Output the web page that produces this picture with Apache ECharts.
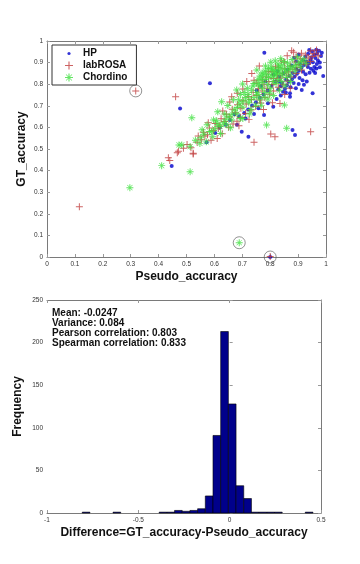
<!DOCTYPE html>
<html lang="en">
<head>
    <meta charset="UTF-8">
    <title>GT vs Pseudo accuracy</title>
    <style>
        html, body { margin: 0; padding: 0; background: #fff; }
    </style>
</head>
<body>
    <div id="main" style="width: 360px;height:564px;"></div>
    <script src="https://cdn.jsdelivr.net/npm/echarts@6/dist/echarts.min.js"></script>
    <script>
        // scatter points [Pseudo_accuracy, GT_accuracy]
        var hpPoints = [
            [0.779,0.946],[0.584,0.804],[0.477,0.688],[0.990,0.838],[0.952,0.758],[0.913,0.773],[0.871,0.758],[0.871,0.742],
            [0.931,0.812],[0.811,0.696],[0.778,0.657],[0.698,0.580],[0.722,0.557],[0.880,0.588],[0.889,0.565],[0.572,0.531],
            [0.656,0.634],[0.447,0.421],[0.800,0.000],
            [0.975,0.955],[0.968,0.942],[0.958,0.936],[0.982,0.930],[0.962,0.921],[0.948,0.925],[0.944,0.912],[0.953,0.902],
            [0.938,0.896],[0.929,0.905],[0.921,0.889],[0.935,0.880],[0.946,0.871],[0.958,0.880],[0.967,0.893],[0.971,0.910],
            [0.912,0.876],[0.903,0.862],[0.918,0.858],[0.927,0.846],[0.941,0.853],[0.955,0.862],[0.896,0.848],[0.887,0.834],
            [0.905,0.829],[0.916,0.818],[0.878,0.823],[0.866,0.811],[0.884,0.806],[0.860,0.795],[0.873,0.786],[0.853,0.779],
            [0.846,0.765],[0.838,0.790],[0.829,0.776],[0.842,0.806],[0.857,0.822],[0.869,0.838],[0.881,0.852],[0.893,0.871],
            [0.908,0.893],[0.918,0.911],[0.926,0.927],[0.936,0.941],[0.951,0.952],[0.893,0.905],[0.877,0.886],[0.862,0.868],
            [0.848,0.851],[0.833,0.834],[0.818,0.812],[0.805,0.793],[0.791,0.771],[0.776,0.752],[0.763,0.737],[0.749,0.716],
            [0.735,0.701],[0.721,0.683],[0.707,0.667],[0.689,0.652],[0.672,0.661],[0.641,0.612],[0.619,0.598],[0.603,0.574],
            [0.752,0.771],[0.768,0.792],[0.783,0.812],[0.812,0.845],[0.826,0.860],[0.961,0.852],[0.978,0.901],[0.985,0.946],
            [0.965,0.960],[0.940,0.958],
            [0.792,0.712],[0.823,0.731],[0.838,0.748],[0.856,0.762],[0.902,0.801],[0.921,0.798],[0.892,0.781],[0.742,0.662],
            [0.758,0.689],[0.681,0.612],[0.712,0.641],[0.832,0.812],[0.902,0.938],[0.886,0.922],[0.966,0.873],[0.978,0.879]
        ];
        var labrosaPoints = [
            [0.318,0.769],[0.461,0.742],[0.467,0.483],[0.435,0.460],[0.440,0.447],[0.116,0.233],[0.471,0.490],[0.524,0.480],
            [0.800,0.002],[0.945,0.580],[0.802,0.569],[0.817,0.557],[0.742,0.531],[0.877,0.955],[0.945,0.955],[0.761,0.884],
            [0.734,0.850],[0.716,0.812],[0.662,0.742],[0.630,0.676],[0.578,0.622],[0.614,0.596],[0.542,0.560],[0.566,0.560],
            [0.610,0.549],[0.524,0.477],[0.835,0.711],[0.763,0.727],
            [0.958,0.941],[0.951,0.928],[0.936,0.921],[0.927,0.935],[0.944,0.905],[0.919,0.903],[0.908,0.918],[0.903,0.891],
            [0.889,0.903],[0.896,0.877],[0.881,0.869],[0.872,0.884],[0.866,0.858],[0.853,0.871],[0.859,0.842],[0.844,0.851],
            [0.838,0.829],[0.826,0.842],[0.822,0.815],[0.811,0.826],[0.807,0.799],[0.795,0.812],[0.789,0.781],[0.778,0.797],
            [0.771,0.768],[0.758,0.779],[0.752,0.748],[0.739,0.761],[0.733,0.729],[0.721,0.742],[0.714,0.708],[0.702,0.723],
            [0.695,0.689],[0.683,0.705],[0.676,0.668],[0.664,0.684],[0.655,0.648],[0.643,0.661],[0.637,0.627],[0.624,0.640],
            [0.618,0.606],[0.603,0.618],[0.596,0.586],[0.582,0.597],[0.575,0.566],[0.561,0.578],[0.553,0.543],[0.538,0.531],
            [0.516,0.506],[0.502,0.521],[0.489,0.503],[0.966,0.958],[0.972,0.932],[0.931,0.893],[0.912,0.866],[0.893,0.850],
            [0.874,0.833],[0.861,0.815],[0.846,0.797],[0.829,0.786],[0.812,0.769],[0.797,0.753],[0.781,0.738],[0.766,0.713],
            [0.748,0.697],[0.731,0.681],[0.712,0.664],[0.694,0.646],[0.681,0.628],[0.667,0.616],[0.651,0.601],[0.851,0.902],
            [0.829,0.876],[0.807,0.858],[0.786,0.833],[0.772,0.819],[0.912,0.943],[0.893,0.927],
            [0.682,0.758],[0.655,0.718],[0.702,0.778],[0.742,0.818],[0.688,0.608],[0.724,0.636],[0.776,0.683],[0.808,0.714],
            [0.852,0.752],[0.872,0.781],[0.628,0.571],[0.588,0.541],[0.752,0.806],[0.793,0.858],[0.819,0.883],[0.839,0.908],
            [0.861,0.932],[0.884,0.948]
        ];
        var chordinoPoints = [
            [0.297,0.321],[0.411,0.423],[0.473,0.519],[0.513,0.395],[0.689,0.066],[0.519,0.645],[0.626,0.719],[0.680,0.773],
            [0.701,0.801],[0.752,0.866],[0.787,0.611],[0.859,0.596],[0.851,0.704],[0.594,0.557],[0.590,0.580],[0.548,0.526],
            [0.513,0.511],[0.483,0.519],[0.608,0.631],
            [0.742,0.803],[0.756,0.821],[0.763,0.838],[0.771,0.852],[0.782,0.861],[0.793,0.873],[0.804,0.879],[0.813,0.868],
            [0.823,0.861],[0.831,0.879],[0.842,0.888],[0.851,0.871],[0.762,0.792],[0.774,0.808],[0.783,0.822],[0.794,0.831],
            [0.803,0.842],[0.812,0.833],[0.822,0.844],[0.833,0.851],[0.843,0.842],[0.852,0.853],[0.861,0.862],[0.871,0.869],
            [0.882,0.880],[0.891,0.888],[0.902,0.898],[0.912,0.906],[0.921,0.917],[0.862,0.898],[0.879,0.914],[0.898,0.926],
            [0.733,0.772],[0.721,0.752],[0.712,0.738],[0.703,0.721],[0.691,0.709],[0.682,0.692],[0.671,0.681],[0.663,0.661],
            [0.652,0.649],[0.641,0.638],[0.632,0.621],[0.621,0.604],[0.612,0.613],[0.601,0.593],[0.583,0.581],[0.562,0.568],
            [0.551,0.552],[0.532,0.541],[0.751,0.761],[0.772,0.781],[0.791,0.798],[0.811,0.812],[0.829,0.822],[0.742,0.738],
            [0.723,0.714],[0.702,0.693],[0.681,0.663],[0.662,0.634],[0.643,0.612],[0.801,0.781],[0.821,0.803],[0.781,0.762],
            [0.762,0.732],[0.841,0.812],[0.858,0.831],[0.872,0.842],[0.889,0.861],[0.908,0.879],[0.928,0.897],[0.802,0.902],
            [0.818,0.908],[0.783,0.884],[0.838,0.918],[0.748,0.703],[0.731,0.683],[0.692,0.641],[0.622,0.572],[0.571,0.533],
            [0.817,0.851],[0.836,0.867],[0.806,0.862],[0.788,0.846],[0.768,0.824],
            [0.612,0.672],[0.648,0.701],[0.668,0.728],[0.693,0.752],[0.718,0.781],[0.738,0.792],[0.658,0.598],[0.702,0.641],
            [0.726,0.662],[0.768,0.702],[0.792,0.731],[0.812,0.748],[0.833,0.772],[0.853,0.793],[0.873,0.812],[0.707,0.762],
            [0.727,0.728],[0.757,0.752],[0.778,0.741],[0.798,0.759],[0.868,0.883],[0.848,0.905],[0.828,0.893],[0.775,0.842],
            [0.757,0.801],[0.687,0.728],[0.574,0.612],[0.556,0.589],[0.637,0.662],[0.597,0.634]
        ];
        // circled outliers
        var circledPoints = [[0.318,0.769],[0.689,0.066],[0.800,0.000]];

        // histogram of GT_accuracy - Pseudo_accuracy, 30 bins
        var binMin = -0.807;
        var binWidth = 0.0421;
        var binCounts = [1,0,0,0,1,0,0,0,0,0, 1,1,3,2,3,5,20,91,213,128, 32,17,1,1,1,1,0,0,0,1];
        var statLines = ['Mean: -0.0247', 'Variance: 0.084', 'Pearson correlation: 0.803', 'Spearman correlation: 0.833'];

        var histData = [];
        binCounts.forEach(function (c, i) {
            if (c > 0) histData.push([binMin + i * binWidth, binMin + (i + 1) * binWidth, c]);
        });

        var plusPath = 'path://M4.3 0h1.4v4.3h4.3v1.4h-4.3v4.3h-1.4v-4.3h-4.3v-1.4h4.3z';
        var starPath = 'path://M4.3 0h1.4v10h-1.4z M0 4.3h10v1.4h-10z M1 1.6L1.6 1L9 8.4L8.4 9z M8.4 1L9 1.6L1.6 9L1 8.4z';
        var dotIcon = 'path://M0 0M10 10M3 5a2 2 0 1 0 4 0a2 2 0 1 0 -4 0z';

        var font = 'Liberation Sans, Arial, sans-serif';
        var frame = '#7a7a7a';

        // one axis with matlab style inner ticks
        function axis(grid, pos, min, max, interval, showLabel, extra) {
            var a = {
                gridIndex: grid,
                type: 'value',
                position: pos,
                min: min,
                max: max,
                interval: interval,
                nameMoveOverlap: false,
                splitLine: { show: false },
                axisLine: { show: true, onZero: false, lineStyle: { color: frame, width: 1 } },
                axisTick: { show: true, inside: true, length: 3, lineStyle: { color: '#999' } },
                axisLabel: { show: showLabel, fontSize: 6.5, color: '#333', fontFamily: font, margin: 4 }
            };
            for (var k in extra) a[k] = extra[k];
            return a;
        }
        var nameStyle = { fontSize: 12, fontWeight: 'bold', color: '#111', fontFamily: font };

        var chart = echarts.init(document.getElementById('main'));
        var option = {
            animation: false,
            backgroundColor: '#fff',
            grid: [
                { left: 47, right: 34, top: 41, height: 216 },
                { left: 47, right: 39, top: 300, height: 213 }
            ],
            xAxis: [
                axis(0, 'bottom', 0, 1, 0.1, true, { name: 'Pseudo_accuracy', nameLocation: 'middle', nameGap: 14, nameTextStyle: nameStyle }),
                axis(0, 'top', 0, 1, 0.1, false, {}),
                axis(1, 'bottom', -1, 0.5, 0.5, true, { name: 'Difference=GT_accuracy-Pseudo_accuracy', nameLocation: 'middle', nameGap: 14, nameTextStyle: nameStyle }),
                axis(1, 'top', -1, 0.5, 0.5, false, {})
            ],
            yAxis: [
                axis(0, 'left', 0, 1, 0.1, true, { name: 'GT_accuracy', nameLocation: 'middle', nameGap: 19, nameTextStyle: nameStyle }),
                axis(0, 'right', 0, 1, 0.1, false, {}),
                axis(1, 'left', 0, 250, 50, true, {
                    name: 'Frequency', nameLocation: 'middle', nameGap: 23, nameTextStyle: nameStyle,
                    axisLine: { show: false }
                }),
                axis(1, 'right', 0, 250, 50, false, {})
            ],
            legend: {
                orient: 'vertical',
                left: 52,
                top: 45,
                padding: [3, 9, 2, 13],
                itemGap: 1,
                itemWidth: 8,
                itemHeight: 8,
                borderColor: '#333',
                borderWidth: 1,
                backgroundColor: '#fff',
                textStyle: { fontSize: 10, fontWeight: 'bold', color: '#111', fontFamily: font, lineHeight: 11, padding: [0, 0, 0, 5] },
                data: [
                    { name: 'HP', icon: dotIcon },
                    { name: 'labROSA', icon: plusPath },
                    { name: 'Chordino', icon: starPath }
                ]
            },
            graphic: [{
                type: 'text',
                left: 52,
                top: 308,
                style: {
                    text: statLines.join('\n'),
                    font: 'bold 10px ' + font,
                    lineHeight: 10,
                    fill: '#111'
                }
            }],
            series: [
                {
                    name: 'HP',
                    type: 'scatter',
                    xAxisIndex: 0, yAxisIndex: 0,
                    symbol: 'circle',
                    symbolSize: 4,
                    itemStyle: { color: '#0000cc' },
                    data: hpPoints
                },
                {
                    name: 'labROSA',
                    type: 'scatter',
                    xAxisIndex: 0, yAxisIndex: 0,
                    symbol: plusPath,
                    symbolSize: 7,
                    itemStyle: { color: '#c03c3c' },
                    data: labrosaPoints
                },
                {
                    name: 'Chordino',
                    type: 'scatter',
                    xAxisIndex: 0, yAxisIndex: 0,
                    symbol: starPath,
                    symbolSize: 7,
                    itemStyle: { color: '#3ee03e' },
                    data: chordinoPoints
                },
                {
                    name: 'circled',
                    type: 'scatter',
                    xAxisIndex: 0, yAxisIndex: 0,
                    symbol: 'circle',
                    symbolSize: 12,
                    clip: false,
                    silent: true,
                    itemStyle: { color: 'rgba(0,0,0,0)', borderColor: '#555', borderWidth: 0.8 },
                    data: circledPoints
                },
                {
                    name: 'hist',
                    type: 'custom',
                    xAxisIndex: 2, yAxisIndex: 2,
                    encode: { x: [0, 1], y: 2 },
                    renderItem: function (params, api) {
                        var p0 = api.coord([api.value(0), api.value(2)]);
                        var p1 = api.coord([api.value(1), 0]);
                        return {
                            type: 'rect',
                            shape: { x: p0[0], y: p0[1], width: p1[0] - p0[0], height: p1[1] - p0[1] },
                            style: { fill: '#00008b', stroke: '#000', lineWidth: 0.6 }
                        };
                    },
                    data: histData
                }
            ]
        };
        chart.setOption(option);
    </script>
</body>
</html>
